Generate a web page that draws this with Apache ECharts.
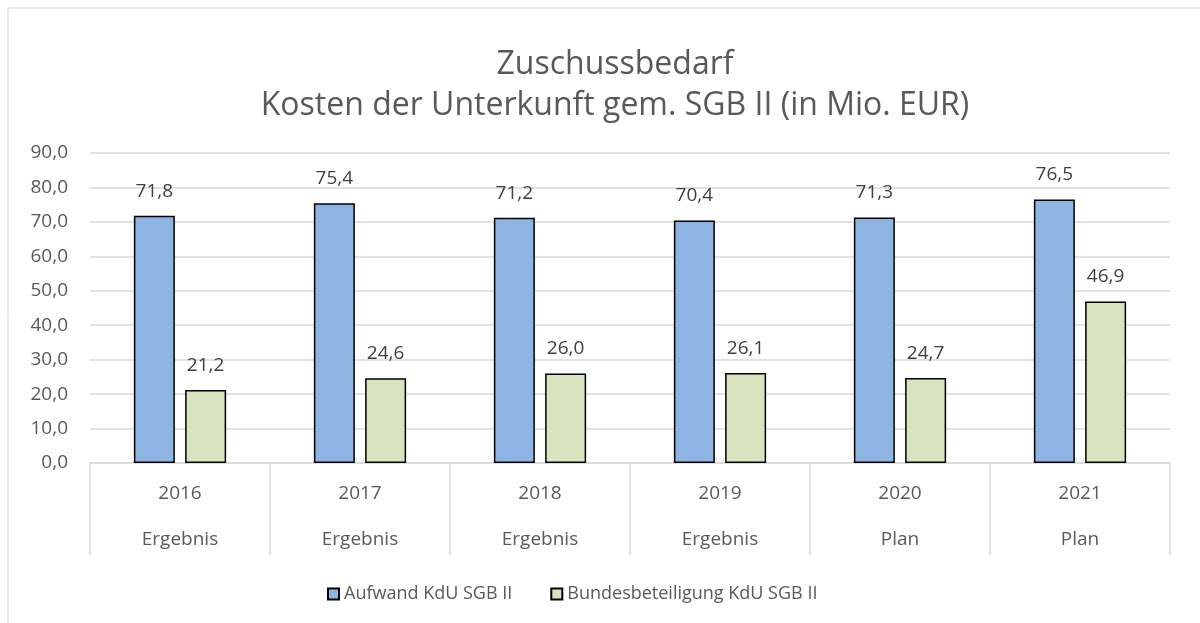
<!DOCTYPE html>
<html>
<head>
<meta charset="utf-8">
<script src="https://cdn.jsdelivr.net/npm/echarts@6/dist/echarts.min.js"></script>
<style>
  html, body { margin: 0; padding: 0; background: #fff; }
  #chart { width: 1200px; height: 623px; }
</style>
</head>
<body>
<div id="chart"></div>
<script>
// Daten
const years = ['2016', '2017', '2018', '2019', '2020', '2021']
const status = ['Ergebnis', 'Ergebnis', 'Ergebnis', 'Ergebnis', 'Plan', 'Plan']
const aufwand = [71.8, 75.4, 71.2, 70.4, 71.3, 76.5]
const bund = [21.2, 24.6, 26.0, 26.1, 24.7, 46.9]
const seriesNames = ['Aufwand KdU SGB II', 'Bundesbeteiligung KdU SGB II']

const font = 'Open Sans, sans-serif'
const fmt = (v) => Number(v).toFixed(1).replace('.', ',')

const categories = years.map((y, i) => y + '\n' + status[i])

const chart = echarts.init(document.getElementById('chart'))

const barLabel = {
	show: true,
	position: 'top',
	distance: 15,
	color: '#404040',
	fontFamily: font,
	fontSize: 19,
	formatter: (p) => fmt(p.value)
}

chart.setOption({
	animation: false,
	backgroundColor: '#fff',
	title: {
		text: 'Zuschussbedarf\nKosten der Unterkunft gem. SGB II (in Mio. EUR)',
		left: 610,
		textAlign: 'center',
		top: 39,
		textStyle: {
			color: '#595959',
			fontFamily: font,
			fontWeight: 'normal',
			fontSize: 32,
			lineHeight: 41
		}
	},
	graphic: [
		{
			type: 'polyline',
			shape: { points: [[8, 623], [8, 8], [1200, 8]] },
			style: { stroke: '#d9d9d9', lineWidth: 1, fill: null }
		}
	],
	legend: {
		top: 580,
		left: 322,
		itemWidth: 11,
		itemHeight: 11,
		itemGap: 38,
		icon: 'rect',
		textStyle: { color: '#595959', fontFamily: font, fontSize: 18 },
		data: seriesNames
	},
	grid: {
		left: 90,
		right: 30,
		top: 153,
		bottom: 160
	},
	xAxis: {
		type: 'category',
		data: categories,
		axisLine: { lineStyle: { color: '#d9d9d9', width: 1.5 } },
		axisTick: { show: true, length: 92, lineStyle: { color: '#d9d9d9', width: 1.5 } },
		axisLabel: {
			color: '#595959',
			fontFamily: font,
			fontSize: 19,
			lineHeight: 46,
			margin: 8
		}
	},
	yAxis: {
		type: 'value',
		min: 0,
		max: 90,
		interval: 10,
		axisLine: { show: false },
		axisTick: { show: false },
		splitLine: { lineStyle: { color: '#d9d9d9', width: 1.5 } },
		axisLabel: {
			color: '#595959',
			fontFamily: font,
			fontSize: 19,
			margin: 22,
			formatter: fmt
		}
	},
	series: [
		{
			name: seriesNames[0],
			type: 'bar',
			data: aufwand,
			barWidth: 41,
			barGap: '25%',
			itemStyle: { color: '#8eb4e3', borderColor: '#000', borderWidth: 1.5 },
			label: barLabel
		},
		{
			name: seriesNames[1],
			type: 'bar',
			data: bund,
			barWidth: 41,
			itemStyle: { color: '#d7e4bd', borderColor: '#000', borderWidth: 1.5 },
			label: barLabel
		}
	]
})
</script>
</body>
</html>
